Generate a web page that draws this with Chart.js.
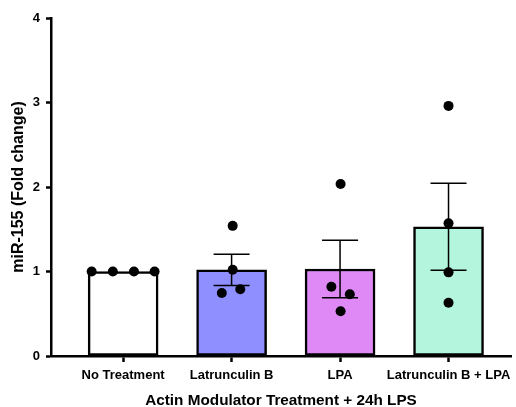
<!DOCTYPE html>
<html lang="en">
  <head>
    <meta charset="UTF-8" />
    <title>miR-155 fold change</title>
    <script src="https://cdn.jsdelivr.net/npm/chart.js@4/dist/chart.umd.min.js"></script>
    <style>
      body { margin: 0; background: #fff; }
      .wrap { width: 516px; height: 407px; }
    </style>
  </head>
  <body>
    <div class="wrap">
      <canvas id="chart" width="516" height="407"></canvas>
    </div>

    <script>
      // groups and summary values (mean +/- SEM)
      const categories = ["No Treatment", "Latrunculin B", "LPA", "Latrunculin B + LPA"];
      const means = [1.0, 1.02, 1.03, 1.53];
      const sems = [0, 0.185, 0.34, 0.515];
      const barColors = ["#ffffff", "#8f8fff", "#de89f5", "#b4f5de"];

      // individual replicates per group, with their horizontal jitter
      const replicates = [
        [1.0, 1.0, 1.0, 1.0],
        [1.54, 1.02, 0.745, 0.79],
        [2.035, 0.82, 0.73, 0.53],
        [2.96, 1.57, 0.99, 0.63],
      ];
      const jitter = [
        [-0.29, -0.095, 0.1, 0.29],
        [0.01, 0.01, -0.09, 0.08],
        [0.005, -0.08, 0.09, 0.005],
        [0, 0, 0, 0],
      ];
      const yTicks = [0, 1, 2, 3, 4];

      const font = "'Liberation Sans', Arial, sans-serif";

      const barData = categories.map((c, i) => ({ x: i, y: means[i] }));
      const dotData = [];
      replicates.forEach((vals, i) => {
        vals.forEach((v, k) => dotData.push({ x: i + jitter[i][k], y: v }));
      });

      // draws the SEM whiskers right after the bars, under the dots
      const errorBars = {
        id: "errorBars",
        afterDatasetDraw(chart, args) {
          if (args.index !== 0) return;
          const { ctx } = chart;
          const xs = chart.scales.x;
          const ys = chart.scales.y;
          ctx.save();
          ctx.strokeStyle = "#000";
          ctx.lineWidth = 1.5;
          means.forEach((m, i) => {
            if (!sems[i]) return;
            const x = xs.getPixelForValue(i);
            const top = ys.getPixelForValue(m + sems[i]);
            const bot = ys.getPixelForValue(m - sems[i]);
            ctx.beginPath();
            ctx.moveTo(x, top);
            ctx.lineTo(x, bot);
            ctx.moveTo(x - 18, top);
            ctx.lineTo(x + 18, top);
            ctx.moveTo(x - 18, bot);
            ctx.lineTo(x + 18, bot);
            ctx.stroke();
          });
          ctx.restore();
        },
      };

      new Chart(document.getElementById("chart"), {
        type: "bar",
        data: {
          datasets: [
            {
              type: "bar",
              data: barData,
              backgroundColor: barColors,
              borderColor: "#000",
              borderWidth: 2.5,
              borderSkipped: false,
              barThickness: 70,
              order: 1,
            },
            {
              type: "scatter",
              data: dotData,
              backgroundColor: "#000",
              borderWidth: 0,
              pointRadius: 5,
              order: 0,
            },
          ],
        },
        options: {
          responsive: false,
          animation: false,
          events: [],
          layout: { padding: { top: 18, right: 0, left: 0, bottom: -3 } },
          plugins: { legend: { display: false }, tooltip: { enabled: false } },
          scales: {
            x: {
              type: "linear",
              min: -0.665,
              max: 3.576,
              offset: false,
              afterBuildTicks: (s) => {
                s.ticks = categories.map((c, i) => ({ value: i }));
              },
              afterFit: (s) => {
                s.height = 54;
                s.paddingLeft = 0;
                s.paddingRight = 0;
              },
              ticks: {
                autoSkip: false,
                maxRotation: 0,
                padding: 6,
                color: "#000",
                font: { family: font, size: 13, weight: "bold" },
                callback: (v) => categories[v],
              },
              grid: {
                offset: false,
                drawOnChartArea: false,
                tickLength: 6,
                tickWidth: 2.5,
                tickColor: "#000",
              },
              border: { color: "#000", width: 2.5 },
              title: {
                display: true,
                text: "Actin Modulator Treatment + 24h LPS",
                color: "#000",
                font: { family: font, size: 15.3, weight: "bold" },
                padding: { top: 2, bottom: 0 },
              },
            },
            y: {
              min: 0,
              max: 4,
              afterBuildTicks: (s) => {
                s.ticks = yTicks.map((v) => ({ value: v }));
              },
              afterFit: (s) => {
                s.width = 51;
              },
              ticks: {
                padding: 6,
                color: "#000",
                font: { family: font, size: 13, weight: "bold" },
              },
              grid: {
                drawOnChartArea: false,
                tickLength: 5,
                tickWidth: 2.5,
                tickColor: "#000",
              },
              border: { color: "#000", width: 2.5 },
              title: {
                display: true,
                text: "miR-155 (Fold change)",
                color: "#000",
                font: { family: font, size: 16, weight: "bold" },
                padding: { top: 9, bottom: 0 },
              },
            },
          },
        },
        plugins: [errorBars],
      });
    </script>
  </body>
</html>
